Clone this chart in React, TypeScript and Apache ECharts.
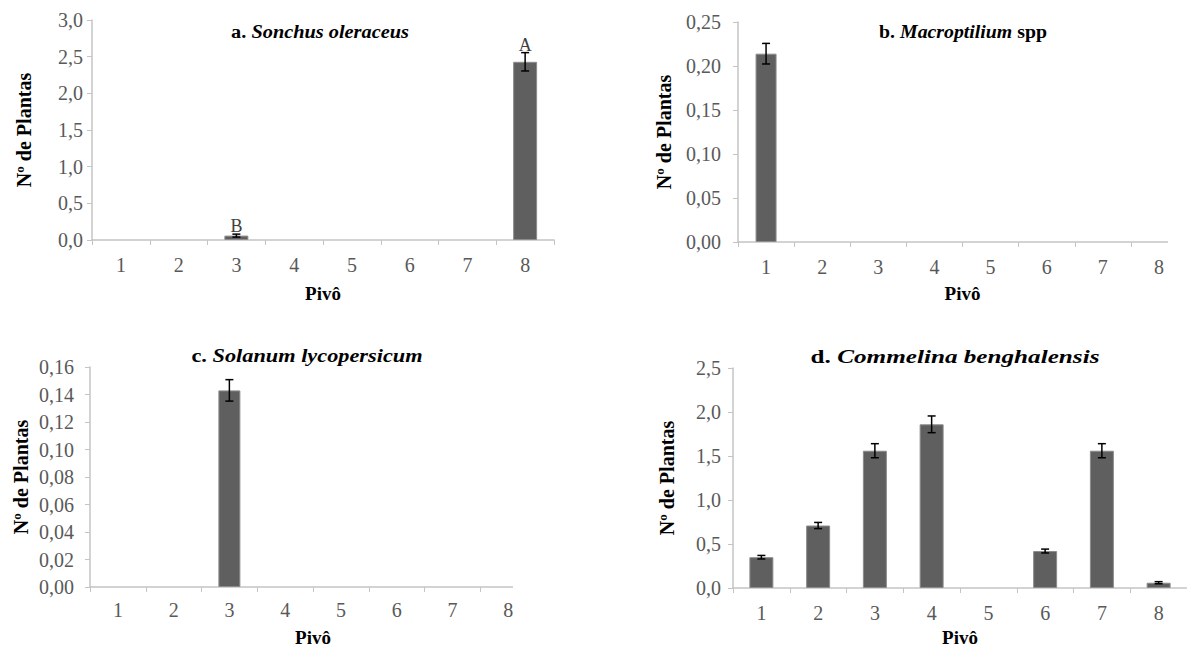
import React, { useEffect, useRef } from 'react';
import * as echarts from 'echarts';

const pivots = ['1', '2', '3', '4', '5', '6', '7', '8'];

const sonchusMean = [0, 0, 0.06, 0, 0, 0, 0, 2.43];
const sonchusErr = [0, 0, 0.02, 0, 0, 0, 0, 0.125];
const sonchusLetters = ['', '', 'B', '', '', '', '', 'A'];

const macroMean = [0.214, 0, 0, 0, 0, 0, 0, 0];
const macroErr = [0.0117, 0, 0, 0, 0, 0, 0, 0];

const solanumMean = [0, 0, 0.143, 0, 0, 0, 0, 0];
const solanumErr = [0, 0, 0.0078, 0, 0, 0, 0, 0];

const commelinaMean = [0.35, 0.71, 1.56, 1.86, 0, 0.42, 1.56, 0.06];
const commelinaErr = [0.02, 0.035, 0.08, 0.095, 0, 0.022, 0.08, 0.012];

const noLetters = ['', '', '', '', '', '', '', ''];

const titlePrefix = ['a. ', 'b. ', 'c. ', 'd. '];
const titleSpecies = ['Sonchus oleraceus', 'Macroptilium', 'Solanum lycopersicum', 'Commelina benghalensis'];
const titleSuffix = ['', ' spp', '', ''];

const yMax = [3, 0.25, 0.16, 2.5];
const yStep = [0.5, 0.05, 0.02, 0.5];
const yDecimals = [1, 2, 2, 1];

const yAxisName = 'Nº de Plantas';
const xAxisName = 'Pivô';

const FONT = 'Liberation Serif';

const layouts = [
  { left: 92, top: 20, width: 462, height: 220, titleX: 320, titleY: 32, titleScale: 1.13, yLabelMargin: 9, yNameGap: 58, xNameGap: 44, xLabelMargin: 15, barWidth: 24 },
  { left: 738, top: 22, width: 454, height: 220, titleX: 963, titleY: 32, titleScale: 1.1, yLabelMargin: 17, yNameGap: 64, xNameGap: 42, xLabelMargin: 15, barWidth: 21 },
  { left: 90, top: 367, width: 446, height: 220, titleX: 307, titleY: 356, titleScale: 1.24, yLabelMargin: 16, yNameGap: 59, xNameGap: 41, xLabelMargin: 13, barWidth: 22 },
  { left: 733, top: 368, width: 477, height: 220, titleX: 955, titleY: 357, titleScale: 1.4, yLabelMargin: 12, yNameGap: 56, xNameGap: 40, xLabelMargin: 15, barWidth: 24 },
];

const AXIS_COLOR = '#c4c4c4';
const LABEL_COLOR = '#595959';
const BAR_COLOR = '#5f5f5f';
const BAR_BORDER = '#8c8c8c';

export default function App() {
  const ref = useRef<HTMLDivElement>(null);

  useEffect(() => {
    if (!ref.current) return;
    const chart = echarts.init(ref.current, undefined, { renderer: 'svg' });

    const means = [sonchusMean, macroMean, solanumMean, commelinaMean];
    const errs = [sonchusErr, macroErr, solanumErr, commelinaErr];
    const letters = [sonchusLetters, noLetters, noLetters, noLetters];

    const grid: any[] = [];
    const xAxis: any[] = [];
    const yAxis: any[] = [];
    const series: any[] = [];
    const graphic: any[] = [];

    layouts.forEach((L, k) => {
      grid.push({ left: L.left, top: L.top, width: L.width, height: L.height, containLabel: false });
      xAxis.push({
        type: 'category',
        gridIndex: k,
        data: pivots,
        name: xAxisName,
        nameLocation: 'middle',
        nameGap: L.xNameGap,
        nameTextStyle: { fontFamily: FONT, fontWeight: 'bold', fontSize: 19, color: '#000', verticalAlign: 'top' },
        axisLine: { show: true, lineStyle: { color: AXIS_COLOR, width: 1.5 } },
        axisTick: { show: true, length: 5, lineStyle: { color: AXIS_COLOR } },
        axisLabel: { fontFamily: FONT, fontSize: 20, color: LABEL_COLOR, margin: L.xLabelMargin },
        splitLine: { show: false },
      });
      const dec = yDecimals[k];
      yAxis.push({
        type: 'value',
        gridIndex: k,
        min: 0,
        max: yMax[k],
        interval: yStep[k],
        name: yAxisName,
        nameLocation: 'middle',
        nameGap: L.yNameGap,
        nameRotate: 90,
        nameTextStyle: { fontFamily: FONT, fontWeight: 'bold', fontSize: 20, color: '#000' },
        axisLine: { show: true, lineStyle: { color: AXIS_COLOR, width: 1.5 } },
        axisTick: { show: true, length: 5, lineStyle: { color: AXIS_COLOR } },
        axisLabel: {
          fontFamily: FONT,
          fontSize: 20,
          color: LABEL_COLOR,
          margin: L.yLabelMargin,
          formatter: (v: number) => v.toFixed(dec).replace('.', ','),
        },
        splitLine: { show: false },
      });
      series.push({
        type: 'bar',
        xAxisIndex: k,
        yAxisIndex: k,
        barWidth: L.barWidth,
        data: means[k].map((v) => ({
          value: v,
          itemStyle: { color: BAR_COLOR, borderColor: BAR_BORDER, borderWidth: v > 0 ? 1 : 0 },
        })),
        silent: true,
      });
      const lt = letters[k];
      series.push({
        type: 'custom',
        xAxisIndex: k,
        yAxisIndex: k,
        silent: true,
        z: 5,
        encode: { x: 0, y: 1 },
        data: means[k].map((v, i) => [i, v, errs[k][i]]),
        renderItem: (params: any, api: any) => {
          const idx = api.value(0);
          const m = api.value(1);
          const e = api.value(2);
          const children: any[] = [];
          const hi = api.coord([idx, m + e]);
          const lo = api.coord([idx, m - e]);
          const cap = 4;
          if (e > 0) {
            const st = { stroke: '#000', lineWidth: 1.5 };
            children.push({ type: 'line', shape: { x1: hi[0], y1: hi[1], x2: lo[0], y2: lo[1] }, style: st });
            children.push({ type: 'line', shape: { x1: hi[0] - cap, y1: hi[1], x2: hi[0] + cap, y2: hi[1] }, style: st });
            children.push({ type: 'line', shape: { x1: lo[0] - cap, y1: lo[1], x2: lo[0] + cap, y2: lo[1] }, style: st });
          }
          const letter = lt[params.dataIndex];
          if (letter) {
            children.push({
              type: 'text',
              x: hi[0],
              y: hi[1] + 1,
              style: {
                text: letter,
                fontFamily: FONT,
                fontSize: 18,
                fill: '#404040',
                align: 'center',
                verticalAlign: 'bottom',
              },
            });
          }
          return { type: 'group', children };
        },
      });
      graphic.push({
        type: 'text',
        x: L.titleX,
        y: L.titleY,
        scaleX: L.titleScale,
        z: 10,
        style: {
          text: '{n|' + titlePrefix[k] + '}{i|' + titleSpecies[k] + '}' + (titleSuffix[k] ? '{n|' + titleSuffix[k] + '}' : ''),
          align: 'center',
          verticalAlign: 'middle',
          rich: {
            n: { fontFamily: FONT, fontWeight: 'bold', fontSize: 18, fill: '#000' },
            i: { fontFamily: FONT, fontWeight: 'bold', fontStyle: 'italic', fontSize: 18, fill: '#000' },
          },
        },
      });
    });

    // the reference crops the axis lines of panels c and b
    graphic.push({ type: 'rect', z: 100, shape: { x: 513, y: 582, width: 87, height: 13 }, style: { fill: '#fff' } });
    graphic.push({ type: 'rect', z: 100, shape: { x: 1168, y: 237, width: 30, height: 13 }, style: { fill: '#fff' } });

    chart.setOption({
      animation: false,
      backgroundColor: '#fff',
      grid,
      xAxis,
      yAxis,
      series,
      graphic,
    });

    return () => chart.dispose();
  }, []);

  return (
    <div
      ref={ref}
      style={{ position: 'absolute', left: 0, top: 0, width: 1187, height: 648, background: '#fff' }}
    />
  );
}
